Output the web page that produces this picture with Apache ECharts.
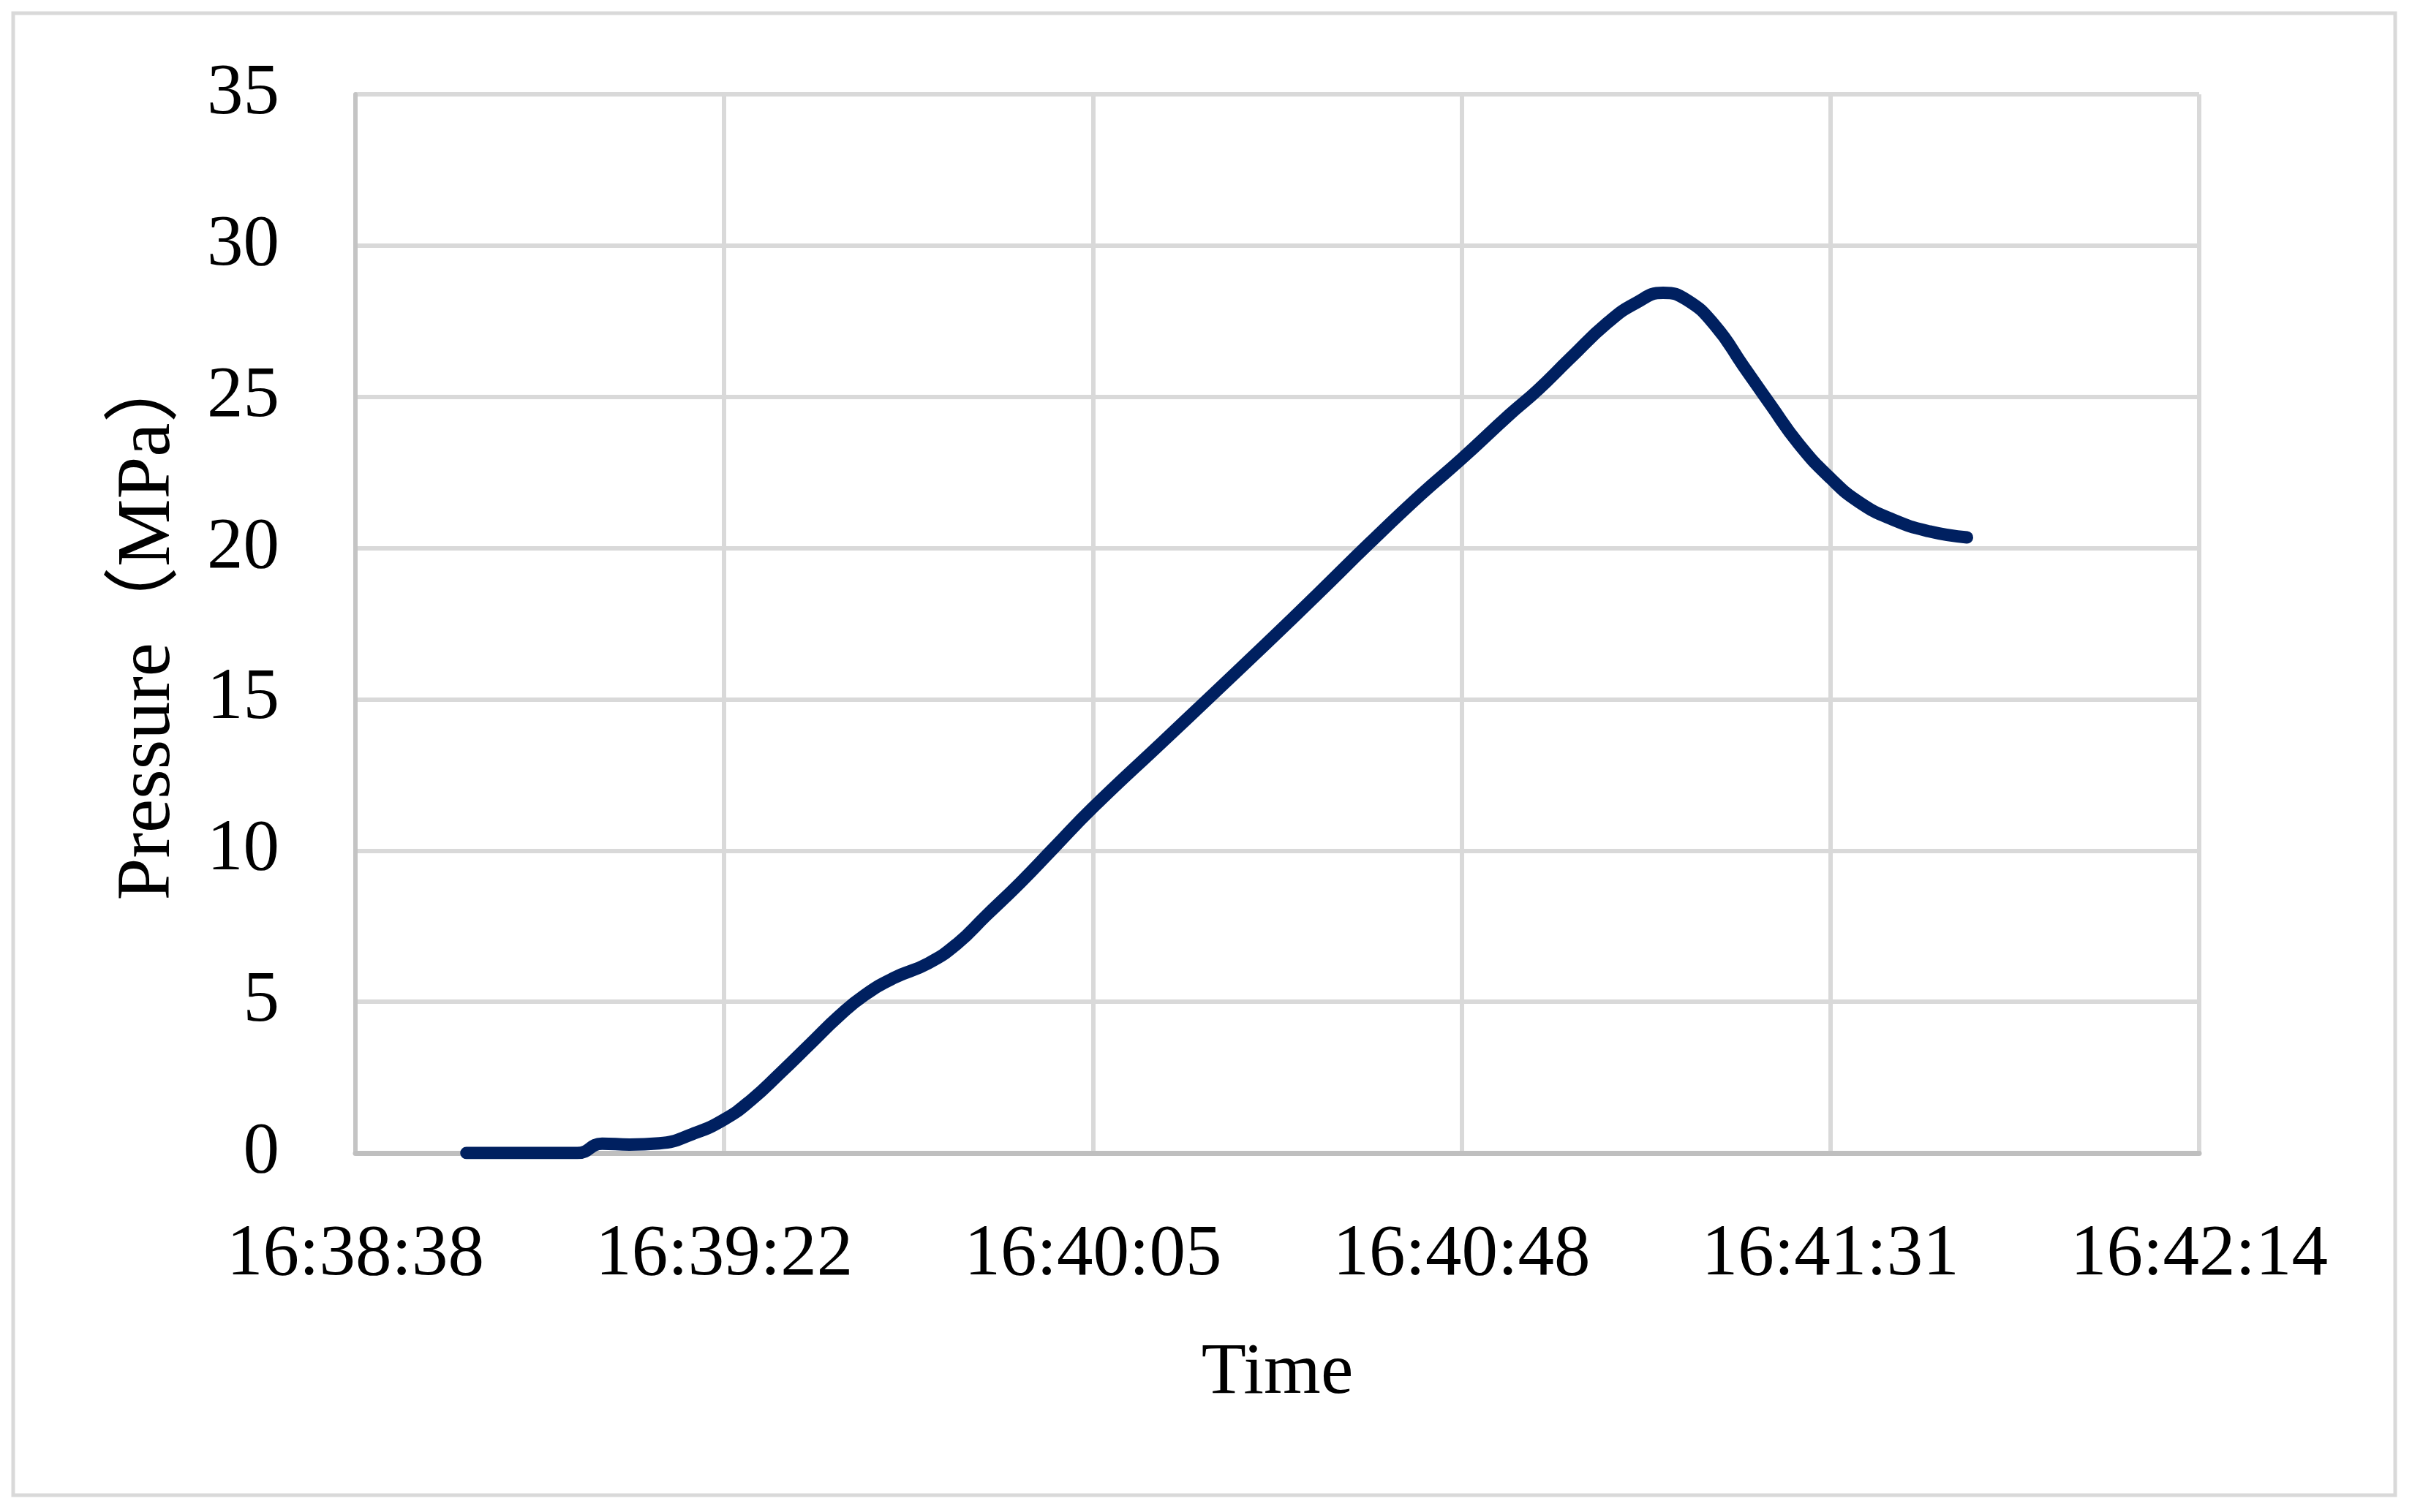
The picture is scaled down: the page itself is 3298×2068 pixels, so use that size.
<!DOCTYPE html>
<html>
<head>
<meta charset="utf-8">
<script src="https://cdn.jsdelivr.net/npm/echarts@6/dist/echarts.min.js"></script>
<style>
  html, body { margin: 0; padding: 0; background: #fff; }
  #chart { width: 3298px; height: 2068px; }
</style>
</head>
<body>
<div id="chart"></div>
<script>
// time of each reading, seconds since midnight (16:38:51.4 ...)
const timeSec = [
    59931.4, 59938.0, 59944.4, 59947.3, 59950.5, 59954.0, 59957.9, 59961.6,
    59964.8, 59968.2, 59971.7, 59975.1, 59978.1, 59981.5, 59985.5, 59988.9,
    59992.3, 59996.3, 60000.2, 60004.8, 60013.1, 60018.2, 60025.1, 60031.2,
    60037.2, 60043.2, 60048.0, 60053.6, 60056.9, 60060.7, 60065.1, 60068.4,
    60071.6, 60074.4, 60077.7, 60081.0, 60084.2, 60087.5, 60091.2, 60094.6,
    60098.5, 60102.8, 60107.2
];
// pressure, MPa
const pressure = [
    0, 0, 0, 0.31, 0.28, 0.32, 0.63, 1.11,
    1.76, 2.65, 3.61, 4.54, 5.23, 5.79, 6.27, 6.92,
    7.85, 8.94, 10.08, 11.42, 13.63, 14.99, 16.84, 18.5,
    20.16, 21.76, 22.95, 24.41, 25.22, 26.27, 27.45, 28.1,
    28.44, 28.2, 27.35, 26.02, 24.73, 23.44, 22.31, 21.51,
    20.94, 20.55, 20.35
];
// x axis starts at 16:38:38.4, one step every 43.2 s
const axisStart = 59918.4;
const axisStep = 43.2;
const xTickLabels = ['16:38:38', '16:39:22', '16:40:05', '16:40:48', '16:41:31', '16:42:14'];
const yTicks = [0, 5, 10, 15, 20, 25, 30, 35];

const serif = "'Liberation Serif', 'Noto Sans CJK SC', serif";
const chart = echarts.init(document.getElementById('chart'));

chart.setOption({
    backgroundColor: '#fff',
    animation: false,
    graphic: [{
        type: 'rect',
        shape: { x: 18, y: 18, width: 3257, height: 2027 },
        style: { fill: 'none', stroke: '#d9d9d9', lineWidth: 5 },
        silent: true
    }],
    grid: { left: 486, right: 291, top: 129, bottom: 491 },
    xAxis: {
        type: 'value',
        min: 0,
        max: axisStep * (xTickLabels.length - 1),
        interval: axisStep,
        name: 'Time',
        nameLocation: 'middle',
        nameGap: 252,
        nameTextStyle: { fontFamily: serif, fontSize: 100, color: '#000' },
        axisLine: { show: true, lineStyle: { color: '#bfbfbf', width: 7 } },
        axisTick: { show: false },
        splitLine: { show: true, lineStyle: { color: '#d9d9d9', width: 6 } },
        axisLabel: {
            fontFamily: serif, fontSize: 99, color: '#000', margin: 90,
            formatter: v => xTickLabels[Math.round(v / axisStep)]
        }
    },
    yAxis: {
        type: 'value',
        min: yTicks[0],
        max: yTicks[yTicks.length - 1],
        interval: 5,
        name: 'Pressure（MPa）',
        nameLocation: 'middle',
        nameGap: 230,
        nameTextStyle: { fontFamily: serif, fontSize: 104, color: '#000' },
        axisLine: { show: true, lineStyle: { color: '#c4c4c4', width: 6 } },
        axisTick: { show: false },
        splitLine: { show: true, lineStyle: { color: '#d9d9d9', width: 6 } },
        axisLabel: { fontFamily: serif, fontSize: 99, color: '#000', margin: 104 }
    },
    series: [{
        type: 'line',
        data: timeSec.map((t, i) => [t - axisStart, pressure[i]]),
        smooth: 0.5,
        showSymbol: false,
        lineStyle: { color: '#002060', width: 17, cap: 'round', join: 'round' }
    }]
});
</script>
</body>
</html>
